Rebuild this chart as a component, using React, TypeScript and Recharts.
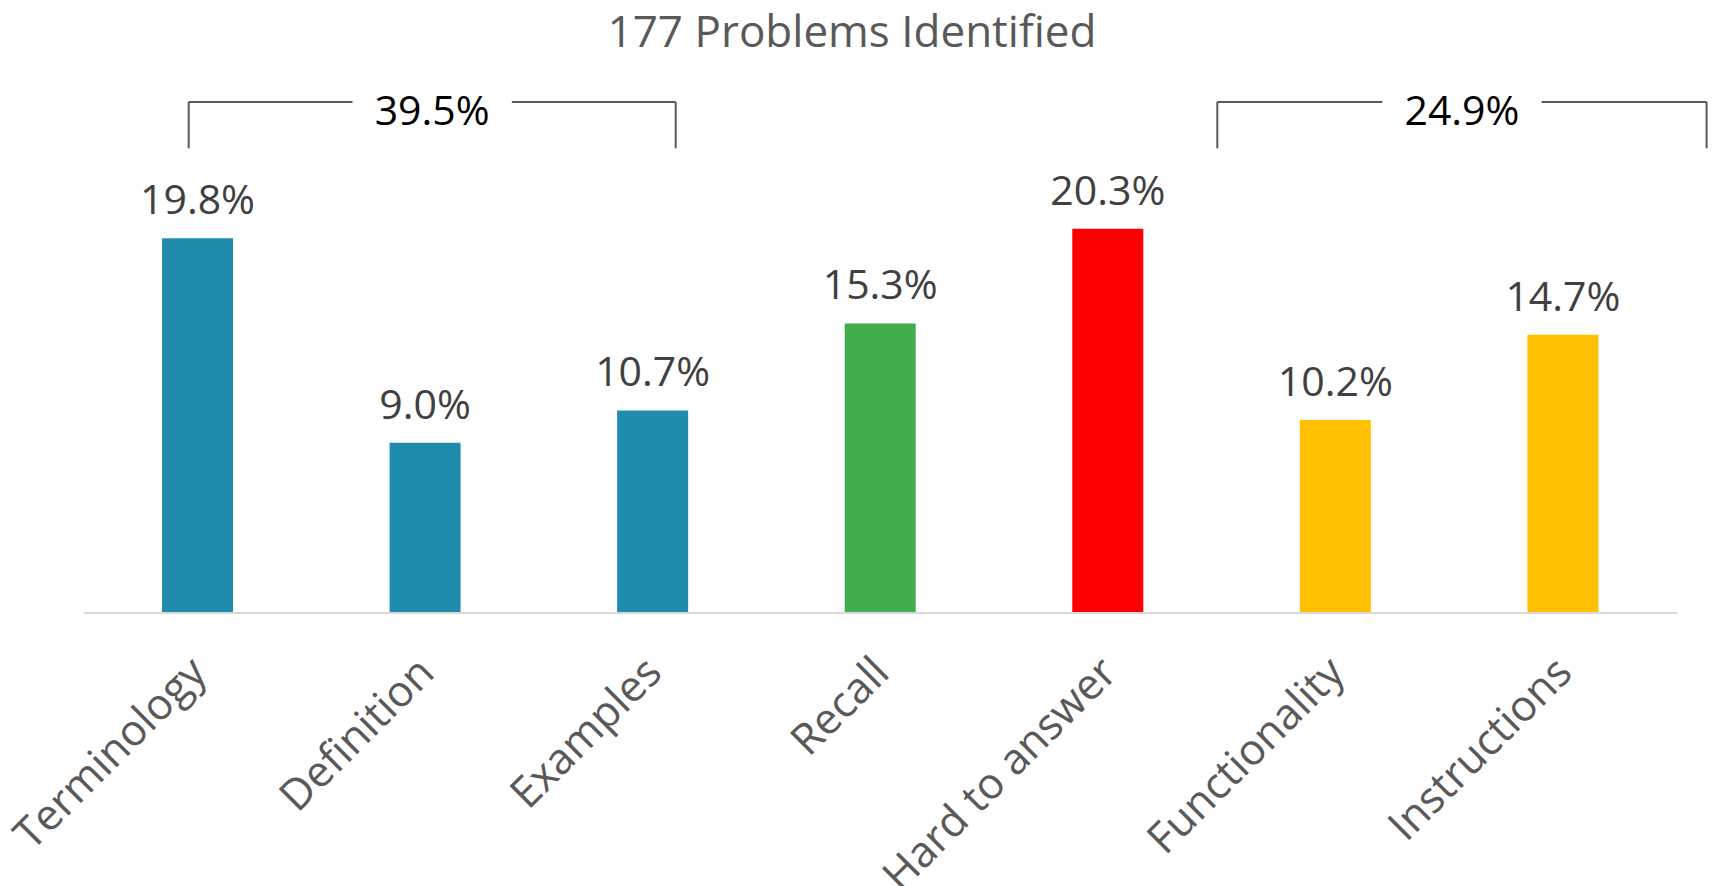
import { BarChart, Bar, XAxis, YAxis, Cell, LabelList, ReferenceLine, ReferenceDot } from "recharts";

const categories = ["Terminology", "Definition", "Examples", "Recall", "Hard to answer", "Functionality", "Instructions"];
const shares = [19.8, 9.0, 10.7, 15.3, 20.3, 10.2, 14.7];
const barColors = ["#1F8CAE", "#1F8CAE", "#1F8CAE", "#41AD4F", "#FF0000", "#FFC000", "#FFC000"];

// group brackets above the bars (x in category index units, y in %)
const groupLabels = ["39.5%", "24.9%"];
const groupStart = [-0.04, 4.48];
const groupEnd = [2.1, 6.63];
const bracketTop = 27.0;
const bracketBottom = 24.55;
const bracketLabelY = 26.53;
const bracketGap = 0.35;

const FONT = "'Open Sans', sans-serif";

const rows = categories.map((name, i) => ({ idx: i, name, share: shares[i] }));

function AngledTick({ x, y, payload }: { x: number; y: number; payload: { value: number } }) {
  return (
    <g transform={`translate(${x + 11},${y + 62})`}>
      <text textAnchor="end" transform="rotate(-45)" fontSize={43} fill="#595959" fontFamily={FONT}>
        {categories[payload.value]}
      </text>
    </g>
  );
}

export default function App() {
  return (
    <div style={{ position: "relative", width: 1718, height: 886, background: "#fff" }}>
      <style>{`body{margin:0}`}</style>
      <div
        style={{
          position: "absolute",
          left: 0,
          width: 1704,
          top: 0,
          textAlign: "center",
          fontFamily: FONT,
          fontSize: 44,
          lineHeight: "60px",
          color: "#595959",
        }}
      >
        177 Problems Identified
      </div>
      <BarChart width={1718} height={886} data={rows} margin={{ top: 83, right: 41, left: 84, bottom: 0 }}>
        <XAxis
          dataKey="idx"
          type="number"
          domain={[-0.5, 6.5]}
          ticks={[0, 1, 2, 3, 4, 5, 6]}
          height={273}
          tickLine={false}
          tickSize={0}
          tickMargin={0}
          axisLine={{ stroke: "#D9D9D9", strokeWidth: 2 }}
          tick={AngledTick}
          interval={0}
        />
        <YAxis hide domain={[0, 28]} />
        <Bar dataKey="share" barSize={71} isAnimationActive={false}>
          {rows.map((r, i) => (
            <Cell key={r.name} fill={barColors[i]} />
          ))}
          <LabelList
            dataKey="share"
            position="top"
            offset={24}
            formatter={(v: number) => `${v.toFixed(1)}%`}
            style={{ fontSize: 41, fill: "#404040", fontFamily: FONT }}
          />
        </Bar>
        {groupLabels.map((label, g) => {
          const mid = (groupStart[g] + groupEnd[g]) / 2;
          const stroke = { stroke: "#595959", strokeWidth: 2 };
          return [
            <ReferenceLine key={`l${g}a`} ifOverflow="visible" {...stroke}
              segment={[{ x: groupStart[g], y: bracketBottom }, { x: groupStart[g], y: bracketTop }]} />,
            <ReferenceLine key={`l${g}b`} ifOverflow="visible" {...stroke}
              segment={[{ x: groupStart[g], y: bracketTop }, { x: mid - bracketGap, y: bracketTop }]} />,
            <ReferenceLine key={`l${g}c`} ifOverflow="visible" {...stroke}
              segment={[{ x: mid + bracketGap, y: bracketTop }, { x: groupEnd[g], y: bracketTop }]} />,
            <ReferenceLine key={`l${g}d`} ifOverflow="visible" {...stroke}
              segment={[{ x: groupEnd[g], y: bracketTop }, { x: groupEnd[g], y: bracketBottom }]} />,
            <ReferenceDot key={`t${g}`} x={mid} y={bracketLabelY} r={0} ifOverflow="visible"
              label={{ value: label, position: "center", fill: "#000000", fontSize: 41, fontFamily: FONT }} />,
          ];
        })}
      </BarChart>
    </div>
  );
}
